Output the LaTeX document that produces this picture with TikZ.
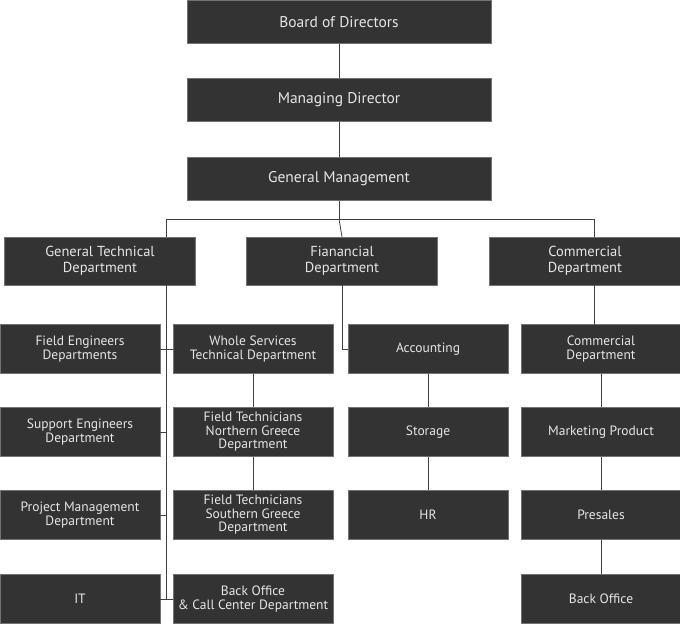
\documentclass[tikz,border=0pt]{standalone}
\usepackage{fontspec}
\setmainfont{PT Sans}
\usepackage{tikz}
\usetikzlibrary{positioning, calc}
\definecolor{boxgray}{HTML}{333333}
\definecolor{textgray}{HTML}{E6E6E6}
\tikzset{
    unit/.style={draw=black!55, fill=boxgray, text=textgray, inner sep=0pt,
      align=center, font=\fontsize{13}{13}\selectfont},
    top/.style={unit, minimum width=304pt, minimum height=43pt, font=\fontsize{15.5}{16}\selectfont},
    dept/.style={unit, minimum width=191pt, minimum height=48pt, font=\fontsize{14.5}{16}\selectfont},
    sub/.style={unit, minimum width=160pt, minimum height=49pt, font=\fontsize{13.5}{13.5}\selectfont},
    link/.style={draw=black!75, line width=0.8pt},
}
\begin{document}
\begin{tikzpicture}[x=1pt, y=-1pt]
    \useasboundingbox (0,0) rectangle (680,625);

    \node[top] (board) at (339,22) {Board of Directors};
    \node[top] (md) at (339,100) {Managing Director};
    \node[top] (gm) at (339,179) {General Management};

    \node[dept] (tech) at (100,261) {General Technical\\Department};
    \node[dept] (fin) at (342,261) {Fianancial\\Department};
    \node[dept] (com) at (585,261) {Commercial\\Department};

    % left column
    \node[sub] (fe) at (80,349) {Field Engineers\\Departments};
    \node[sub] (se) at (80,432) {Support Engineers\\Department};
    \node[sub] (pm) at (80,515) {Project Management\\Department};
    \node[sub] (it) at (80,599) {IT};

    % middle column
    \node[sub] (ws) at (253,349) {Whole Services\\Technical Department};
    \node[sub] (ftn) at (253,432) {Field Technicians\\Northern Greece\\Department};
    \node[sub] (fts) at (253,515) {Field Technicians\\Southern Greece\\Department};
    \node[sub] (bocc) at (253,599) {Back Office\\\& Call Center Department};

    % financial column
    \node[sub] (acc) at (428,349) {Accounting};
    \node[sub] (sto) at (428,432) {Storage};
    \node[sub] (hr) at (428,515) {HR};

    % commercial column
    \node[sub] (cd) at (601,349) {Commercial\\Department};
    \node[sub] (mp) at (601,432) {Marketing Product};
    \node[sub] (pre) at (601,515) {Presales};
    \node[sub] (bo) at (601,599) {Back Office};

    \coordinate (spine) at (166,285);
    \begin{scope}[link]
      \draw (board) -- (md);
      \draw (md) -- (gm);
      \draw (gm.south) -- (339,219) -| (166,237);
      \draw (339,219) -- (fin.north);
      \draw (339,219) -| (594,237);
      \draw (spine) -- (166,599);
      \foreach \n in {fe, se, pm, it}
        \draw (\n.east) -- (\n.east -| spine);
      \draw (ws.west) -- (ws.west -| spine);
      \draw (bocc.west) -- (bocc.west -| spine);
      \draw (ws) -- (ftn);
      \draw (ftn) -- (fts);
      \draw (fin.south) -- (342,349) -- (acc.west);
      \draw (acc) -- (sto);
      \draw (sto) -- (hr);
      \draw (594,285) -- (594,325);
      \draw (cd) -- (mp);
      \draw (mp) -- (pre);
      \draw (pre) -- (bo);
    \end{scope}
\end{tikzpicture}
\end{document}
